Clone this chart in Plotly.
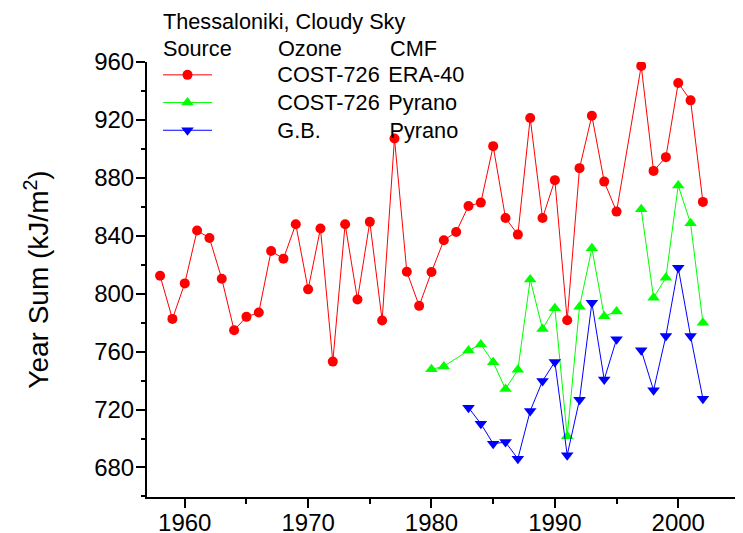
import plotly.graph_objects as go

# ---------------- data ----------------
years_era = [1958, 1959, 1960, 1961, 1962, 1963, 1964, 1965, 1966, 1967,
             1968, 1969, 1970, 1971, 1972, 1973, 1974, 1975, 1976, 1977,
             1978, 1979, 1980, 1981, 1982, 1983, 1984, 1985, 1986, 1987,
             1988, 1989, 1990, 1991, 1992, 1993, 1994, 1995,
             1997, 1998, 1999, 2000, 2001, 2002]
cost_era = [812.4, 782.6, 807.1, 843.6, 838.5, 810.3, 774.8, 784.0, 787.0, 829.5,
            824.2, 848.0, 803.0, 845.0, 753.1, 848.0, 796.0, 849.6, 781.5, 907.2,
            815.2, 791.6, 815.0, 836.9, 842.6, 860.6, 862.9, 901.9, 852.3, 840.8,
            921.3, 852.3, 878.4, 781.7, 886.7, 922.9, 877.4, 856.7,
            957.3, 884.8, 894.3, 945.5, 933.5, 863.4]

years_pyr = [1980, 1981, 1983, 1984, 1985, 1986, 1987, 1988, 1989, 1990,
             1991, 1992, 1993, 1994, 1995, 1996, 1997, 1998, 1999, 2000,
             2001, 2002]
cost_pyr = [747.8, 749.8, 760.8, 764.9, 752.7, 734.2, 747.4, 809.8, 775.7, 790.0,
            701.5, 791.0, 831.3, 784.5, 787.7, None, 858.3, 797.2, 811.0, 874.7,
            848.6, 780.0]

years_gb = [1983, 1984, 1985, 1986, 1987, 1988, 1989, 1990, 1991, 1992,
            1993, 1994, 1995, 1996, 1997, 1998, 1999, 2000, 2001, 2002]
gb_pyr = [721.3, 710.2, 696.4, 697.5, 686.0, 719.0, 739.7, 752.9, 688.5, 726.8,
          793.7, 740.7, 768.6, None, 761.0, 733.3, 770.7, 818.0, 770.7, 727.5]

legend_title = "Thessaloniki, Cloudy Sky"
header = ["Source", "Ozone", "CMF"]
ozone_col = ["COST-726", "COST-726", "G.B."]
cmf_col = ["ERA-40", "Pyrano", "Pyrano"]

# ---------------- layout geometry ----------------
# the page body has an 8px margin, so the figure is drawn 8px in and down
OFF = 8
WIN_W, WIN_H = 743, 533
W, H = WIN_W - OFF, WIN_H - OFF
PLOT_L, PLOT_T, PLOT_B = 147, 62, 497          # window pixel coordinates
ML, MT = PLOT_L - OFF, PLOT_T - OFF
MR, MB = 0, H - (PLOT_B - OFF)
PW, PH = W - ML - MR, H - MT - MB

def px(xw):
    return (xw - PLOT_L) / PW

def py(yw):
    return (PLOT_B - yw) / PH

FONT = "Liberation Sans, Arial, sans-serif"
NB = "\u00a0"
TXT = 21.7  # legend text size

# Arial advance widths (em) used to line the legend columns up
ADV = {"C": .722, "O": .778, "S": .667, "T": .611, "-": .333, "7": .556,
       "2": .556, "6": .556, "G": .778, ".": .278, "B": .667}

def text_w(s, size):
    return sum(ADV.get(c, .556) for c in s) * size

def pad(width_px):
    # one no-break space sized so that it spans width_px
    return '<span style="font-size:%.2fpx">%s</span>' % (width_px / 0.278, NB)

LEG_X = 158          # legend left (window px)
ITEMW = 49           # legend symbol width
OZ_X = 277.3         # Ozone column text origin
CMF_X = 389.6        # CMF column text origin
lead = OZ_X - (LEG_X + ITEMW + 10)

colors = ["#FF0000", "#00FF00", "#0000FF"]
symbols = ["circle", "triangle-up", "triangle-down"]
sizes = [10, 11, 11]
xs = [years_era, years_pyr, years_gb]
ys = [cost_era, cost_pyr, gb_pyr]

fig = go.Figure()
for i in range(3):
    gap = CMF_X - OZ_X - text_w(ozone_col[i], TXT)
    name = (pad(lead) + '<span style="font-size:%.1fpx">' % TXT + ozone_col[i]
            + '</span>' + pad(gap) + '<span style="font-size:%.1fpx">' % TXT
            + cmf_col[i] + '</span>')
    fig.add_trace(go.Scatter(
        x=xs[i], y=ys[i], mode="lines+markers", name=name,
        line=dict(color=colors[i], width=1),
        marker=dict(symbol=symbols[i], size=sizes[i], color=colors[i],
                    line=dict(width=0)),
        connectgaps=False,
    ))

annotations = [
    dict(text=legend_title, x=px(160.5), y=py(22)),
    dict(text=header[0], x=px(160.5), y=py(48)),
    dict(text=header[1], x=px(275.5), y=py(48)),
    dict(text=header[2], x=px(388), y=py(48)),
]
for a in annotations:
    a.update(xref="paper", yref="paper", xanchor="left", yanchor="middle",
             showarrow=False, font=dict(size=TXT, color="black", family=FONT))

axis_common = dict(
    showgrid=False, zeroline=False, showline=True, linecolor="black",
    linewidth=2, ticks="outside", ticklen=9, tickwidth=2, tickcolor="black",
    tickfont=dict(size=24, color="black", family=FONT),
)

fig.update_layout(
    width=W, height=H,
    margin=dict(l=ML, r=MR, t=MT, b=MB, pad=0, autoexpand=False),
    paper_bgcolor="white", plot_bgcolor="white",
    font=dict(family=FONT, color="black"),
    showlegend=True,
    legend=dict(x=px(LEG_X), y=py(56), xanchor="left", yanchor="top",
                font=dict(size=19, color="black", family=FONT),
                bgcolor="rgba(0,0,0,0)", borderwidth=0, itemwidth=ITEMW,
                tracegroupgap=0),
    annotations=annotations,
    xaxis=dict(range=[1956.94, 2005.25], tick0=1960, dtick=10,
               minor=dict(dtick=5, ticks="outside", ticklen=4.5, tickwidth=2,
                          tickcolor="black"),
               automargin=False, ticklabelstandoff=-6,
               **axis_common),
    yaxis=dict(range=[659.6, 960], tick0=680, dtick=40,
               minor=dict(dtick=20, ticks="outside", ticklen=4.5, tickwidth=2,
                          tickcolor="black"),
               ticklabelstandoff=-3,
               title=dict(text="Year Sum (kJ/m<sup>2</sup>)",
                          font=dict(size=28, color="black", family=FONT),
                          standoff=37),
               **axis_common),
)

fig.write_html("out.html")
